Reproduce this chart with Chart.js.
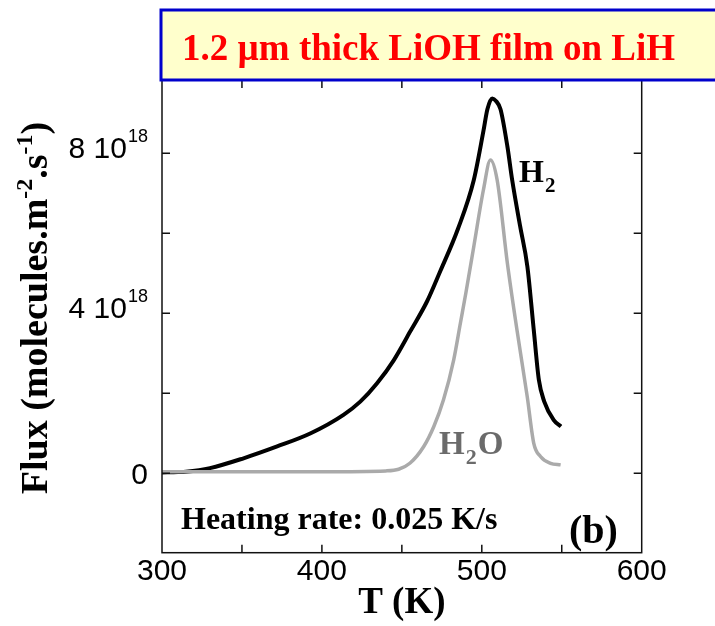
<!DOCTYPE html>
<html>
<head>
<meta charset="utf-8">
<script src="https://cdn.jsdelivr.net/npm/chart.js@4/dist/chart.umd.min.js"></script>
<style>
  html, body { margin: 0; padding: 0; background: #ffffff; }
  #wrap { width: 715px; height: 626px; }
</style>
</head>
<body>
<div id="wrap"><canvas id="tds" width="715" height="626"></canvas></div>
<script>
// Temperature-programmed desorption of a 1.2 µm LiOH film on LiH
// Flux values in units of 10^18 molecules.m^-2.s^-1
const temperatureH2 = [300, 310, 315, 330, 351, 372, 393, 413.5, 424, 434.5, 445, 455.3, 465.8, 474,
  485, 495, 501, 503.5, 506.5, 509, 511.7, 516, 519, 524, 528.5, 532.5, 535.7, 539, 545, 549.5];
const fluxH2 = [0.02, 0.03, 0.04, 0.13, 0.375, 0.67, 1.0, 1.46, 1.79, 2.25, 2.83, 3.55, 4.3, 5.05,
  6.1, 7.33, 8.55, 9.1, 9.37, 9.3, 9.1, 8.17, 7.33, 6.17, 5.17, 3.58, 2.33, 1.8, 1.33, 1.17];

const temperatureH2O = [300, 350, 400, 440, 448, 455, 463.7, 470, 476, 482.4, 486.6, 490, 495,
  501, 505.4, 509.6, 516, 522, 528.4, 532.5, 536.7, 543, 549.3];
const fluxH2O = [0.04, 0.04, 0.04, 0.06, 0.1, 0.25, 0.67, 1.17, 1.83, 2.83, 3.75, 4.5, 5.67,
  7.08, 7.83, 7.33, 5.25, 3.58, 1.92, 0.75, 0.42, 0.25, 0.21];

const xTickLabels = [300, 400, 500, 600];
const xMinorTicks = [350, 400, 450, 500, 550];
const yTickLabels = [0, 4, 8];
const yMinorTicks = [0, 2, 4, 6, 8];

const SANS = '"Liberation Sans", Arial, sans-serif';
const SERIF = '"Liberation Serif", "Times New Roman", serif';

function pts(xs, ys) { return xs.map((x, i) => ({ x: x, y: ys[i] })); }

const decorations = {
  id: 'decorations',
  beforeDraw(chart) {
    const ctx = chart.ctx;
    ctx.save();
    ctx.fillStyle = '#ffffff';
    ctx.fillRect(0, 0, chart.width, chart.height);
    ctx.restore();
  },
  afterDraw(chart) {
    const ctx = chart.ctx;
    const a = chart.chartArea;
    const xs = chart.scales.x, ys = chart.scales.y;
    const tick = 8;

    // frame
    ctx.save();
    ctx.strokeStyle = '#111111';
    ctx.lineWidth = 1.5;
    ctx.strokeRect(a.left, a.top, a.right - a.left, a.bottom - a.top);

    // inward ticks on all four sides
    ctx.beginPath();
    xMinorTicks.forEach(v => {
      const px = xs.getPixelForValue(v);
      ctx.moveTo(px, a.bottom); ctx.lineTo(px, a.bottom - tick);
      ctx.moveTo(px, a.top); ctx.lineTo(px, a.top + tick);
    });
    yMinorTicks.forEach(v => {
      const py = ys.getPixelForValue(v);
      ctx.moveTo(a.left, py); ctx.lineTo(a.left + tick, py);
      ctx.moveTo(a.right, py); ctx.lineTo(a.right - tick, py);
    });
    ctx.stroke();

    // x tick labels
    ctx.fillStyle = '#000000';
    ctx.textBaseline = 'alphabetic';
    const numFont = '30px ' + SANS;
    ctx.font = numFont;
    ctx.textAlign = 'center';
    xTickLabels.forEach(v => {
      ctx.fillText(String(v), xs.getPixelForValue(v), a.bottom + 27.5);
    });

    // y tick labels, e.g. "8 10^18"
    const supFont = '18px ' + SANS;
    const rightEdge = 147;
    ctx.textAlign = 'left';
    yTickLabels.forEach(v => {
      const py = ys.getPixelForValue(v);
      if (v === 0) {
        ctx.font = numFont;
        const w = ctx.measureText('0').width;
        ctx.fillText('0', rightEdge - w + 1, py + 11);
      } else {
        const main = v + ' 10';
        ctx.font = numFont;
        const w1 = ctx.measureText(main).width;
        ctx.font = supFont;
        const w2 = ctx.measureText('18').width;
        const x0 = rightEdge - w1 - w2;
        ctx.font = numFont;
        ctx.fillText(main, x0, py + 5);
        ctx.font = supFont;
        ctx.fillText('18', x0 + w1 + 1, py - 11.5);
      }
    });

    // x axis title
    ctx.font = 'bold 37px ' + SERIF;
    ctx.textAlign = 'center';
    ctx.fillText('T (K)', (a.left + a.right) / 2, 613);

    // y axis title with superscripts, rotated
    ctx.save();
    ctx.translate(47, 308);
    ctx.rotate(-Math.PI / 2);
    const tFont = 'bold 38px ' + SERIF;
    const sFont = 'bold 24px ' + SERIF;
    const parts = [
      ['Flux (molecules.m', tFont, 0],
      ['-2', sFont, -15],
      ['.s', tFont, 0],
      ['-1', sFont, -15],
      [')', tFont, 0]
    ];
    let total = 0;
    parts.forEach(p => { ctx.font = p[1]; total += ctx.measureText(p[0]).width; });
    let cx = -total / 2;
    ctx.textAlign = 'left';
    parts.forEach(p => {
      ctx.font = p[1];
      ctx.fillText(p[0], cx, p[2]);
      cx += ctx.measureText(p[0]).width;
    });
    ctx.restore();

    // series labels
    ctx.textAlign = 'left';
    ctx.fillStyle = '#000000';
    ctx.font = 'bold 32px ' + SERIF;
    ctx.fillText('H', 519, 181.5);
    let hw = ctx.measureText('H').width;
    ctx.font = 'bold 21px ' + SERIF;
    ctx.fillText('2', 519 + hw + 1, 191.5);

    ctx.fillStyle = '#6b6b6b';
    ctx.font = 'bold 33px ' + SERIF;
    ctx.fillText('H', 439, 453.5);
    hw = ctx.measureText('H').width;
    ctx.font = 'bold 22px ' + SERIF;
    ctx.fillText('2', 439 + hw + 1, 463.5);
    const w2 = ctx.measureText('2').width;
    ctx.font = 'bold 33px ' + SERIF;
    ctx.fillText('O', 439 + hw + 1 + w2 + 1, 453.5);

    // annotations
    ctx.fillStyle = '#000000';
    ctx.font = 'bold 32px ' + SERIF;
    ctx.fillText('Heating rate: 0.025 K/s', 181, 528.5);
    ctx.font = 'bold 40px ' + SERIF;
    ctx.fillText('(b)', 569, 543);

    // title banner
    ctx.fillStyle = '#ffffcc';
    ctx.fillRect(161, 10, 600, 70);
    ctx.strokeStyle = '#0000cc';
    ctx.lineWidth = 3;
    ctx.strokeRect(161, 10, 600, 70);
    ctx.fillStyle = '#ff0000';
    ctx.font = 'bold 37px ' + SERIF;
    ctx.fillText('1.2 \u00B5m thick LiOH film on LiH', 182, 60);
    ctx.restore();
  }
};

new Chart(document.getElementById('tds'), {
  type: 'line',
  data: {
    datasets: [
      {
        label: 'H2',
        data: pts(temperatureH2, fluxH2),
        borderColor: '#000000',
        borderWidth: 4,
        pointRadius: 0,
        cubicInterpolationMode: 'monotone',
        fill: false,
        order: 2
      },
      {
        label: 'H2O',
        data: pts(temperatureH2O, fluxH2O),
        borderColor: '#aaaaaa',
        borderWidth: 3.5,
        pointRadius: 0,
        cubicInterpolationMode: 'monotone',
        fill: false,
        order: 1
      }
    ]
  },
  options: {
    responsive: false,
    animation: false,
    devicePixelRatio: 1,
    layout: { padding: { left: 162, right: 73.3, top: 80, bottom: 73.3 } },
    plugins: { legend: { display: false }, tooltip: { enabled: false } },
    scales: {
      x: { type: 'linear', min: 300, max: 600, display: false },
      y: { type: 'linear', min: -1.985, max: 9.83, display: false }
    }
  },
  plugins: [decorations]
});
</script>
</body>
</html>
